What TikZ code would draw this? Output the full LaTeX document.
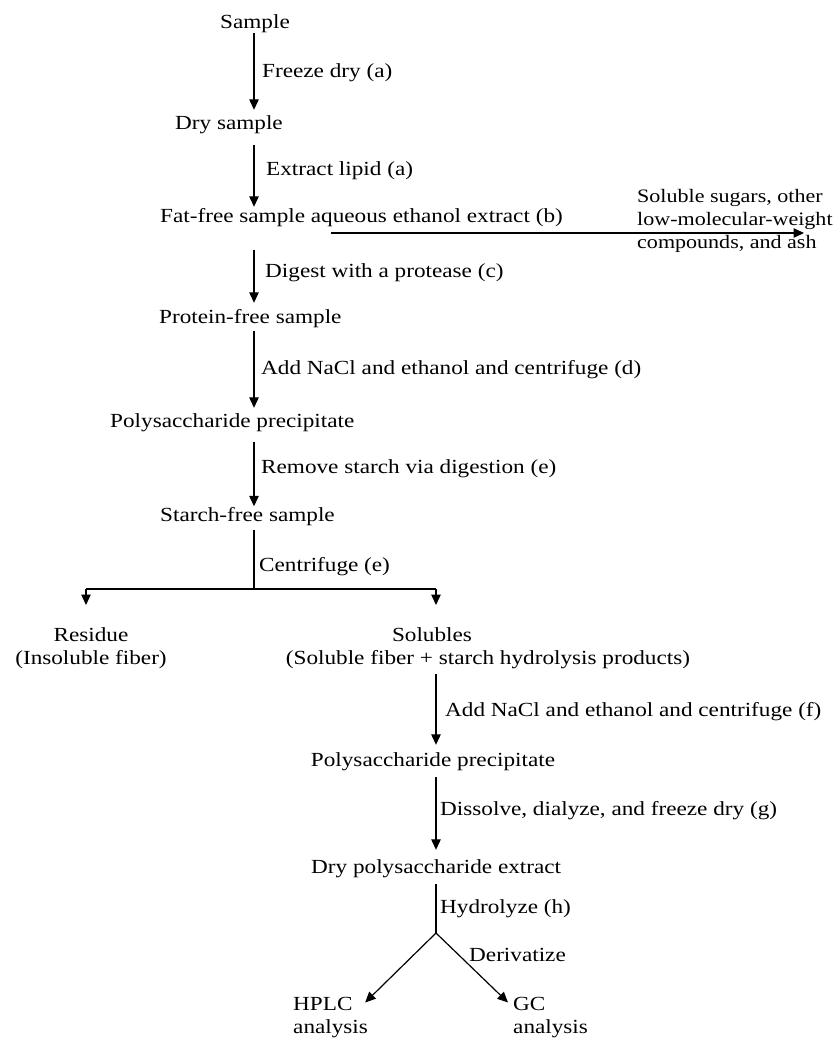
\documentclass[tikz,border=0pt]{standalone}
\usepackage{fontspec}
\setmainfont[FakeStretch=1.16]{Liberation Serif}
\usetikzlibrary{arrows.meta}
\newcommand\fz{\fontsize{20pt}{23pt}\selectfont}
\newcommand\fzs{\fontsize{19pt}{23pt}\selectfont}
\tikzset{
  lbl/.style={inner sep=0pt, anchor=base west, font=\fz, text height=14pt, text depth=4.5pt},
  clbl/.style={inner sep=0pt, anchor=base, font=\fz, text height=14pt, text depth=4.5pt},
  multi/.style={inner sep=0pt, font=\fz, align=center},
  arr/.style={-{Triangle[length=10.5pt,width=9.5pt]}, line width=1.2pt},
  ln/.style={line width=1.2pt},
}
\begin{document}
\begin{tikzpicture}[x=1pt,y=-1pt]
\useasboundingbox (0,0) rectangle (834,1039);
% axis coordinates
\coordinate (ax) at (254,0);
\coordinate (bx) at (436,0);
% main nodes
\node[clbl] (sample) at (255,28) {Sample};
\node[lbl] (dry) at (175,129.5) {Dry sample};
\node[lbl] (fat) at (160,222) {Fat-free sample aqueous ethanol extract (b)};
\node[multi, font=\fzs, align=left, anchor=north west] (side) at (637,189) {Soluble sugars, other\\low-molecular-weight\\compounds, and ash};
\node[lbl] (prot) at (159,323.5) {Protein-free sample};
\node[lbl] (poly) at (110,427.5) {Polysaccharide precipitate};
\node[lbl] (starch) at (160,521.5) {Starch-free sample};
\node[multi, anchor=north] (resid) at (91,627.5) {Residue\\(Insoluble fiber)};
\node[multi, anchor=north] (sol) at (488,627.5) {\hspace*{0pt}Solubles\hspace*{112pt}\\(Soluble fiber + starch hydrolysis products)};
\node[clbl] (poly2) at (433,766.5) {Polysaccharide precipitate};
\node[lbl] (drypoly) at (311,873.5) {Dry polysaccharide extract};
\node[multi, anchor=north west, align=left] (hplc) at (293,997.5) {HPLC\\analysis};
\node[multi, anchor=north west, align=left] (gc) at (513,997.5) {GC\\analysis};
% step labels
\node[lbl] (l1) at (262,77.5) {Freeze dry (a)};
\node[lbl] (l2) at (266,175.5) {Extract lipid (a)};
\node[lbl] (l3) at (265,277.5) {Digest with a protease (c)};
\node[lbl] (l4) at (261,374.5) {Add NaCl and ethanol and centrifuge (d)};
\node[lbl] (l5) at (261,473.5) {Remove starch via digestion (e)};
\node[lbl] (l6) at (259,571.5) {Centrifuge (e)};
\node[lbl] (l7) at (445,716.5) {Add NaCl and ethanol and centrifuge (f)};
\node[lbl] (l8) at (440,815.5) {Dissolve, dialyze, and freeze dry (g)};
\node[lbl] (l9) at (440,913.5) {Hydrolyze (h)};
\node[lbl] (l10) at (469,961.5) {Derivatize};
% junction coordinates
\coordinate (split) at (254,589);
\coordinate (bl) at (86,589);
\coordinate (br) at (436,589);
\coordinate (fork) at (436,933);
% connectors
\draw[arr, shorten <=0.5pt, shorten >=5.5pt] (sample.south -| ax) -- (dry.north -| ax);
\draw[arr, shorten <=11pt, shorten >=1pt] (dry.south -| ax) -- (fat.north -| ax);
\draw[arr, shorten <=23pt, shorten >=6.5pt] (fat.south -| ax) -- (prot.north -| ax);
\draw[arr, shorten <=3pt, shorten >=5.5pt] (prot.south -| ax) -- (poly.north -| ax);
\draw[arr, shorten <=10pt, shorten >=1pt] (poly.south -| ax) -- (starch.north -| ax);
\draw[arr, shorten >=4pt] ([shift={(171,11)}]fat.base west) -- ([shift={(171,11)}]fat.base west -| side.west);
\draw[ln, shorten <=4pt] (starch.south -| ax) -- (split);
\draw[ln] (bl) -- (br);
\draw[arr, shorten >=22.5pt] (bl) -- (bl |- resid.north);
\draw[arr, shorten >=22.5pt] (br) -- (br |- sol.north);
\draw[arr, shorten <=5pt, shorten >=7.5pt] (sol.south -| bx) -- (poly2.north -| bx);
\draw[arr, shorten <=6pt, shorten >=9.5pt] (poly2.south -| bx) -- (drypoly.north -| bx);
\draw[ln, shorten <=6pt] (drypoly.south -| bx) -- (fork);
\draw[arr] (fork) -- ([shift={(-3,5)}]hplc.north east);
\draw[arr] (fork) -- ([shift={(-5,5)}]gc.north west);
\end{tikzpicture}
\end{document}
